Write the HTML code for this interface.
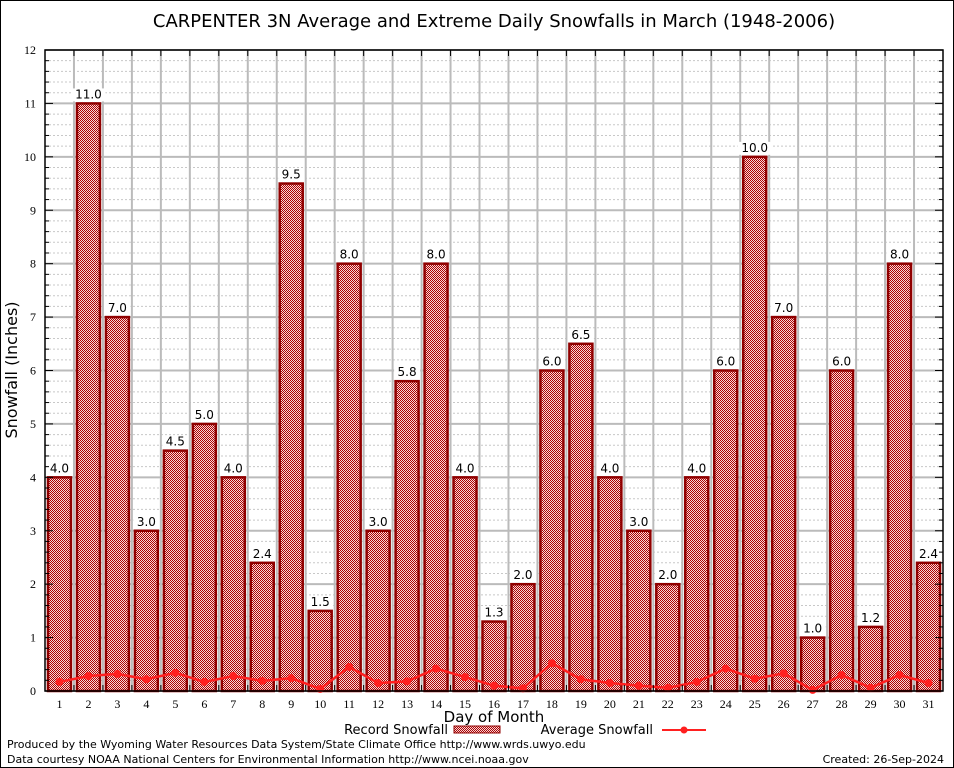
<!DOCTYPE html>
<html><head><meta charset="utf-8"><style>
html,body{margin:0;padding:0;background:#fff;}
svg{display:block;font-family:"DejaVu Sans","Liberation Sans",sans-serif;}
</style></head><body>
<svg id="chart" width="954" height="768" viewBox="0 0 954 768">
<defs>
<pattern id="chk" width="2" height="2" patternUnits="userSpaceOnUse">
<rect width="2" height="2" fill="#f4dada"/><rect width="1" height="1" fill="#b00000"/><rect x="1" y="1" width="1" height="1" fill="#b00000"/>
</pattern>
</defs>
<rect x="0.5" y="0.5" width="953" height="767" fill="#fff" stroke="#000"/>
<text x="494" y="27" font-size="18" text-anchor="middle">CARPENTER 3N Average and Extreme Daily Snowfalls in March (1948-2006)</text>
<g id="grid"></g>
<g id="bars"></g>
<g id="avg"></g>
<g id="axes"></g>
<text transform="translate(17,370) rotate(-90)" font-size="16" text-anchor="middle">Snowfall (Inches)</text>
<text x="494" y="722" font-size="15" text-anchor="middle">Day of Month</text>
<g>
<text x="448" y="734" font-size="13" text-anchor="end">Record Snowfall</text>
<rect x="454" y="726" width="46" height="7" fill="url(#chk)" stroke="#900000"/>
<text x="653" y="734" font-size="13" text-anchor="end">Average Snowfall</text>
<line x1="662" y1="730" x2="706" y2="730" stroke="#ff2020" stroke-width="2"/>
<circle cx="684" cy="730" r="3.5" fill="#ff2020"/>
</g>
<text x="7" y="748" font-size="11">Produced by the Wyoming Water Resources Data System/State Climate Office http://www.wrds.uwyo.edu</text>
<text x="7" y="763" font-size="11">Data courtesy NOAA National Centers for Environmental Information http://www.ncei.noaa.gov</text>
<text x="944" y="763" font-size="11" text-anchor="end">Created: 26-Sep-2024</text>
</svg>
<script>
const days=[1,2,3,4,5,6,7,8,9,10,11,12,13,14,15,16,17,18,19,20,21,22,23,24,25,26,27,28,29,30,31];
const recordSnow=[4.0,11.0,7.0,3.0,4.5,5.0,4.0,2.4,9.5,1.5,8.0,3.0,5.8,8.0,4.0,1.3,2.0,6.0,6.5,4.0,3.0,2.0,4.0,6.0,10.0,7.0,1.0,6.0,1.2,8.0,2.4];
const avgSnow=[0.17,0.28,0.32,0.22,0.34,0.17,0.28,0.19,0.24,0.04,0.45,0.15,0.18,0.42,0.26,0.1,0.05,0.52,0.22,0.15,0.1,0.06,0.17,0.42,0.23,0.33,0.02,0.3,0.06,0.3,0.15];
const yTicks=[0,1,2,3,4,5,6,7,8,9,10,11,12];
const NS="http://www.w3.org/2000/svg";
const L=45,R=943,T=50,B=691,ymax=12;
const dx=(R-L)/31;
const X=d=>L+(d-0.5)*dx;
const Y=v=>B-v/ymax*(B-T);
function mk(tag,attrs,parent){const e=document.createElementNS(NS,tag);for(const k in attrs)e.setAttribute(k,attrs[k]);parent.appendChild(e);return e;}
const grid=document.getElementById('grid'),bars=document.getElementById('bars'),avg=document.getElementById('avg'),axes=document.getElementById('axes');
mk('rect',{x:L,y:T,width:R-L,height:B-T,fill:'#fff'},grid);
for(let v=0;v<ymax;v+=0.2){if(Math.abs(v-Math.round(v))<1e-6)continue;mk('line',{x1:L,x2:R,y1:Y(v),y2:Y(v),stroke:'#c8c8c8','stroke-dasharray':'2,2','stroke-width':1},grid);}
yTicks.forEach(v=>{mk('line',{x1:L,x2:R,y1:Y(v),y2:Y(v),stroke:'#bbb','stroke-width':2},grid);});
for(let i=1;i<31;i++){mk('line',{x1:L+i*dx,x2:L+i*dx,y1:T,y2:B,stroke:'#bbb','stroke-width':2},grid);}
const bw=23;
days.forEach((d,i)=>{
const r=mk('rect',{x:X(d)-bw/2,y:Y(recordSnow[i]),width:bw,height:B-Y(recordSnow[i]),fill:'url(#chk)',stroke:'#900000','stroke-width':2.5},bars);


const lbl=recordSnow[i].toFixed(1);
mk('rect',{x:X(d)-lbl.length*4-1,y:Y(recordSnow[i])-15,width:lbl.length*8+2,height:13,fill:'#fff'},bars);
const t=mk('text',{x:X(d),y:Y(recordSnow[i])-5,'font-size':12,'text-anchor':'middle'},bars);
t.textContent=lbl;


});
const pl=mk('polyline',{points:days.map((d,i)=>X(d)+','+Y(avgSnow[i])).join(' '),fill:'none',stroke:'#ff2020','stroke-width':2.5},avg);


days.forEach((d,i)=>{const c=mk('circle',{cx:X(d),cy:Y(avgSnow[i]),r:4,fill:'#ff2020'},avg);

});
mk('rect',{x:L,y:T,width:R-L,height:B-T,fill:'none',stroke:'#000','stroke-width':1.5},axes);
for(let v=0;v<=ymax+1e-6;v+=0.2){const maj=Math.abs(v-Math.round(v))<1e-6;const w=maj?8:4;
mk('line',{x1:L,x2:L+w,y1:Y(v),y2:Y(v),stroke:'#000'},axes);mk('line',{x1:R,x2:R-w,y1:Y(v),y2:Y(v),stroke:'#000'},axes);}
yTicks.forEach(v=>{const t=mk('text',{x:L-9,y:Y(v)+4,'font-size':12,'text-anchor':'end','font-family':'Liberation Serif,serif'},axes);t.textContent=v;

});
for(let i=1;i<31;i++){mk('line',{x1:L+i*dx,x2:L+i*dx,y1:T,y2:T+6,stroke:'#000'},axes);mk('line',{x1:L+i*dx,x2:L+i*dx,y1:B,y2:B-6,stroke:'#000'},axes);}
days.forEach(d=>{const t=mk('text',{x:X(d),y:B+17,'font-size':12,'text-anchor':'middle','font-family':'Liberation Serif,serif'},axes);t.textContent=d;

});
</script>
</body></html>
